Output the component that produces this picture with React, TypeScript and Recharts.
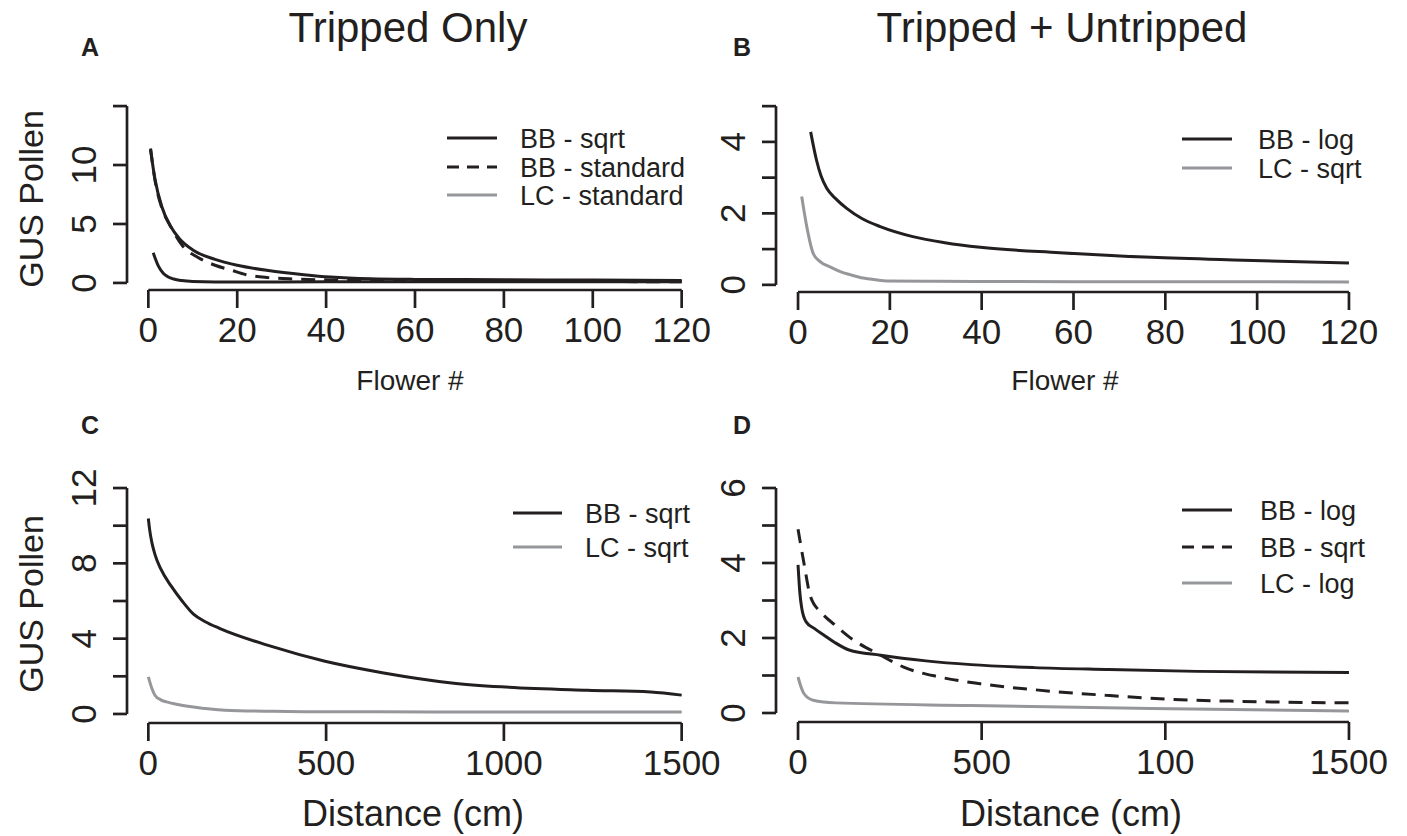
import { LineChart, Line, XAxis, YAxis, ReferenceLine } from 'recharts';

const INK = '#231f20';
const GREY = '#96979a';
const FONT = '"Liberation Sans", Arial, sans-serif';

// ---- axis ticks / labels ----
const flowerTicks = [0, 20, 40, 60, 80, 100, 120];
const flowerLabels = ['0', '20', '40', '60', '80', '100', '120'];
const distTicks = [0, 500, 1000, 1500];
const distLabelsC = ['0', '500', '1000', '1500'];
const distLabelsD = ['0', '500', '100', '1500'];

const aYTicks = [0, 5, 10, 15];
const aYLabels = [0, 5, 10];
const bYTicks = [0, 1, 2, 3, 4, 5];
const bYLabels = [0, 2, 4];
const cYTicks = [0, 2, 4, 6, 8, 10, 12];
const cYLabels = [0, 4, 8, 12];
const dYTicks = [0, 1, 2, 3, 4, 5, 6];
const dYLabels = [0, 2, 4, 6];

// ---- series (x, GUS pollen) ----
// A: tripped only, by flower
const aBBsqrt = [[0.5, 11.3], [1.5, 8.8], [3, 6.5], [5, 4.8], [7, 3.75], [10, 2.8], [15, 2.0], [20, 1.5], [27, 1.05], [35, 0.7], [41, 0.5], [50, 0.35], [60, 0.3], [80, 0.27], [100, 0.24], [120, 0.2]];
const aBBstandard = [[0.5, 11.4], [1.5, 8.7], [3, 6.4], [5, 4.8], [6, 4.1], [8, 3.0], [11, 2.2], [15, 1.5], [18.5, 1.1], [22, 0.7], [27, 0.45], [33, 0.33], [41, 0.25], [55, 0.2], [80, 0.15], [100, 0.12], [120, 0.1]];
const aLCstandard = [[1.1, 2.55], [2.3, 1.4], [3.4, 0.8], [4.5, 0.5], [5.7, 0.33], [7.5, 0.2], [10, 0.12], [15, 0.08], [20, 0.08], [40, 0.1], [60, 0.1], [80, 0.1], [100, 0.1], [120, 0.1]];

// B: tripped + untripped, by flower
const bBBlog = [[2.75, 4.28], [4, 3.5], [5, 3.05], [6.25, 2.7], [8.3, 2.4], [10.6, 2.14], [14, 1.85], [17.9, 1.63], [25, 1.35], [32, 1.18], [39.7, 1.05], [57, 0.9], [77, 0.77], [97, 0.69], [120, 0.61]];
const bLCsqrt = [[0.8, 2.47], [1.9, 1.63], [3.3, 0.88], [4.8, 0.65], [7, 0.5], [9.2, 0.37], [11.5, 0.28], [14.2, 0.19], [17, 0.14], [19.3, 0.11], [30, 0.1], [60, 0.09], [90, 0.09], [120, 0.08]];

// C: tripped only, by distance
const cBBsqrt = [[0, 10.38], [4, 9.75], [10, 9.1], [19, 8.45], [35, 7.7], [64, 6.8], [95, 6.0], [127, 5.3], [160, 4.9], [200, 4.55], [344, 3.6], [497, 2.8], [662, 2.18], [853, 1.65], [993, 1.44], [1235, 1.26], [1413, 1.17], [1500, 1.0]];
const cLCsqrt = [[0, 1.97], [10, 1.35], [19, 0.98], [35, 0.75], [51, 0.64], [90, 0.48], [127, 0.37], [216, 0.2], [350, 0.14], [471, 0.12], [800, 0.11], [1200, 0.1], [1500, 0.1]];

// D: tripped + untripped, by distance
const dBBlog = [[0, 3.95], [5, 3.2], [10, 2.8], [22, 2.43], [45, 2.25], [70, 2.08], [100, 1.88], [139, 1.68], [225, 1.54], [348, 1.39], [471, 1.29], [643, 1.21], [840, 1.16], [1086, 1.11], [1500, 1.08]];
const dBBsqrt = [[0, 4.9], [16, 4.0], [34, 3.1], [65, 2.66], [100, 2.35], [139, 2.03], [225, 1.54], [286, 1.23], [385, 0.96], [496, 0.78], [655, 0.61], [840, 0.47], [1024, 0.36], [1209, 0.31], [1500, 0.27]];
const dLClog = [[0, 0.96], [8, 0.7], [16, 0.52], [41, 0.34], [102, 0.27], [471, 0.2], [963, 0.12], [1500, 0.05]];

const pts = (a: number[][]) => a.map(([x, y]) => ({ x, y }));
// R-style axis range: 4% padding on each side
const rPad = (lo: number, hi: number) => [lo - (hi - lo) * 0.04, hi + (hi - lo) * 0.04];

const SOLID = { stroke: INK };
const DASHED = { stroke: INK, dash: '14 9' };
const LIGHT = { stroke: GREY };

type Series = { name: string; data: number[][]; style: { stroke: string; dash?: string }; inLegend?: { stroke: string; dash?: string } };

const XTick = ({ x, y, payload, ticks, labels }: any) => {
  const i = ticks.indexOf(payload.value);
  return (
    <text x={x} y={y + 32} textAnchor="middle" fontSize={35} fill={INK} fontFamily={FONT}>
      {labels[i]}
    </text>
  );
};

const YTick = ({ x, y, payload, labels }: any) => {
  if (!labels.includes(payload.value)) return <g />;
  return (
    <text x={x - 15} y={y} transform={`rotate(-90 ${x - 15} ${y})`} textAnchor="middle" fontSize={35} fill={INK} fontFamily={FONT}>
      {payload.value}
    </text>
  );
};

function Panel({ box, margin, xLim, yLim, xTicks, xLabels, yTicks, yLabels, series }: any) {
  const xDom = rPad(xLim[0], xLim[1]);
  const yDom = rPad(yLim[0], yLim[1]);
  const axisStroke = { stroke: INK, strokeWidth: 2.7 };
  return (
    <div style={{ position: 'absolute', left: box.left, top: box.top }}>
      <LineChart width={box.w} height={box.h} margin={margin}>
        <XAxis
          type="number"
          dataKey="x"
          domain={xDom}
          ticks={xTicks}
          interval={0}
          allowDataOverflow
          axisLine={false}
          tickLine={axisStroke}
          tickSize={18}
          height={50}
          tick={<XTick ticks={xTicks} labels={xLabels} />}
        />
        <YAxis
          type="number"
          domain={yDom}
          ticks={yTicks}
          interval={0}
          allowDataOverflow
          axisLine={false}
          tickLine={axisStroke}
          tickSize={14}
          width={60}
          tick={<YTick labels={yLabels} />}
        />
        <ReferenceLine
          segment={[{ x: xTicks[0], y: yDom[0] }, { x: xTicks[xTicks.length - 1], y: yDom[0] }]}
          ifOverflow="visible"
          {...axisStroke}
        />
        <ReferenceLine
          segment={[{ x: xDom[0], y: yTicks[0] }, { x: xDom[0], y: yTicks[yTicks.length - 1] }]}
          ifOverflow="visible"
          {...axisStroke}
        />
        {series.map((s: Series) => (
          <Line
            key={s.name}
            data={pts(s.data)}
            dataKey="y"
            type="monotone"
            stroke={s.style.stroke}
            strokeWidth={3}
            strokeDasharray={s.style.dash}
            dot={false}
            activeDot={false}
            isAnimationActive={false}
          />
        ))}
      </LineChart>
    </div>
  );
}

function LegendBox({ series, x0, x1, tx, rows }: any) {
  return (
    <g>
      {series.map((s: Series, i: number) => {
        const st = s.inLegend || s.style;
        return (
          <g key={s.name}>
            <line x1={x0} x2={x1} y1={rows[i]} y2={rows[i]} stroke={st.stroke} strokeWidth={3} strokeDasharray={st.dash ? '12 8' : undefined} />
            <text x={tx} y={rows[i] + 10} fontSize={27} fill={INK} fontFamily={FONT}>{s.name}</text>
          </g>
        );
      })}
    </g>
  );
}

const seriesA: Series[] = [
  { name: 'BB - sqrt', data: aBBsqrt, style: SOLID },
  { name: 'BB - standard', data: aBBstandard, style: DASHED },
  { name: 'LC - standard', data: aLCstandard, style: SOLID, inLegend: LIGHT },
];
const seriesB: Series[] = [
  { name: 'BB - log', data: bBBlog, style: SOLID },
  { name: 'LC - sqrt', data: bLCsqrt, style: LIGHT },
];
const seriesC: Series[] = [
  { name: 'BB - sqrt', data: cBBsqrt, style: SOLID },
  { name: 'LC - sqrt', data: cLCsqrt, style: LIGHT },
];
const seriesD: Series[] = [
  { name: 'BB - log', data: dBBlog, style: SOLID },
  { name: 'BB - sqrt', data: dBBsqrt, style: DASHED },
  { name: 'LC - log', data: dLClog, style: LIGHT },
];

export default function App() {
  return (
    <div style={{ position: 'absolute', left: 0, top: 0, width: 1407, height: 836, background: '#fff', overflow: 'hidden' }}>
      <Panel
        box={{ left: 0, top: 0, w: 720, h: 400 }}
        margin={{ top: 99, left: 67, right: 17, bottom: 60 }}
        xLim={[0, 120]} yLim={[0, 15]}
        xTicks={flowerTicks} xLabels={flowerLabels}
        yTicks={aYTicks} yLabels={aYLabels}
        series={seriesA}
      />
      <Panel
        box={{ left: 700, top: 0, w: 707, h: 400 }}
        margin={{ top: 99, left: 16, right: 36, bottom: 58 }}
        xLim={[0, 120]} yLim={[0, 5]}
        xTicks={flowerTicks} xLabels={flowerLabels}
        yTicks={bYTicks} yLabels={bYLabels}
        series={seriesB}
      />
      <Panel
        box={{ left: 0, top: 420, w: 720, h: 416 }}
        margin={{ top: 59, left: 67, right: 17, bottom: 63 }}
        xLim={[0, 1500]} yLim={[0, 12]}
        xTicks={distTicks} xLabels={distLabelsC}
        yTicks={cYTicks} yLabels={cYLabels}
        series={seriesC}
      />
      <Panel
        box={{ left: 700, top: 420, w: 707, h: 416 }}
        margin={{ top: 59, left: 16, right: 36, bottom: 64 }}
        xLim={[0, 1500]} yLim={[0, 6]}
        xTicks={distTicks} xLabels={distLabelsD}
        yTicks={dYTicks} yLabels={dYLabels}
        series={seriesD}
      />

      <svg width={1407} height={836} style={{ position: 'absolute', left: 0, top: 0, pointerEvents: 'none' }} fontFamily={FONT} fill={INK}>
        <text x={408} y={42} fontSize={42} textAnchor="middle">Tripped Only</text>
        <text x={1062} y={42} fontSize={42} textAnchor="middle">Tripped + Untripped</text>

        <text x={81} y={56} fontSize={25} fontWeight="bold">A</text>
        <text x={733} y={56} fontSize={25} fontWeight="bold">B</text>
        <text x={81} y={434} fontSize={25} fontWeight="bold">C</text>
        <text x={733} y={434} fontSize={25} fontWeight="bold">D</text>

        <text x={43} y={199} fontSize={34} textAnchor="middle" transform="rotate(-90 43 199)">GUS Pollen</text>
        <text x={43} y={604} fontSize={34} textAnchor="middle" transform="rotate(-90 43 604)">GUS Pollen</text>

        <text x={410} y={390} fontSize={28} textAnchor="middle">Flower #</text>
        <text x={1065} y={390} fontSize={28} textAnchor="middle">Flower #</text>
        <text x={413} y={826} fontSize={36} textAnchor="middle">Distance (cm)</text>
        <text x={1071} y={826} fontSize={36} textAnchor="middle">Distance (cm)</text>

        <LegendBox series={seriesA} x0={447} x1={497} tx={520} rows={[138, 167, 195]} />
        <LegendBox series={seriesB} x0={1182} x1={1232} tx={1258} rows={[139, 168]} />
        <LegendBox series={seriesC} x0={513} x1={562} tx={585} rows={[513, 547]} />
        <LegendBox series={seriesD} x0={1182} x1={1232} tx={1260} rows={[510, 547, 583]} />
      </svg>
    </div>
  );
}
